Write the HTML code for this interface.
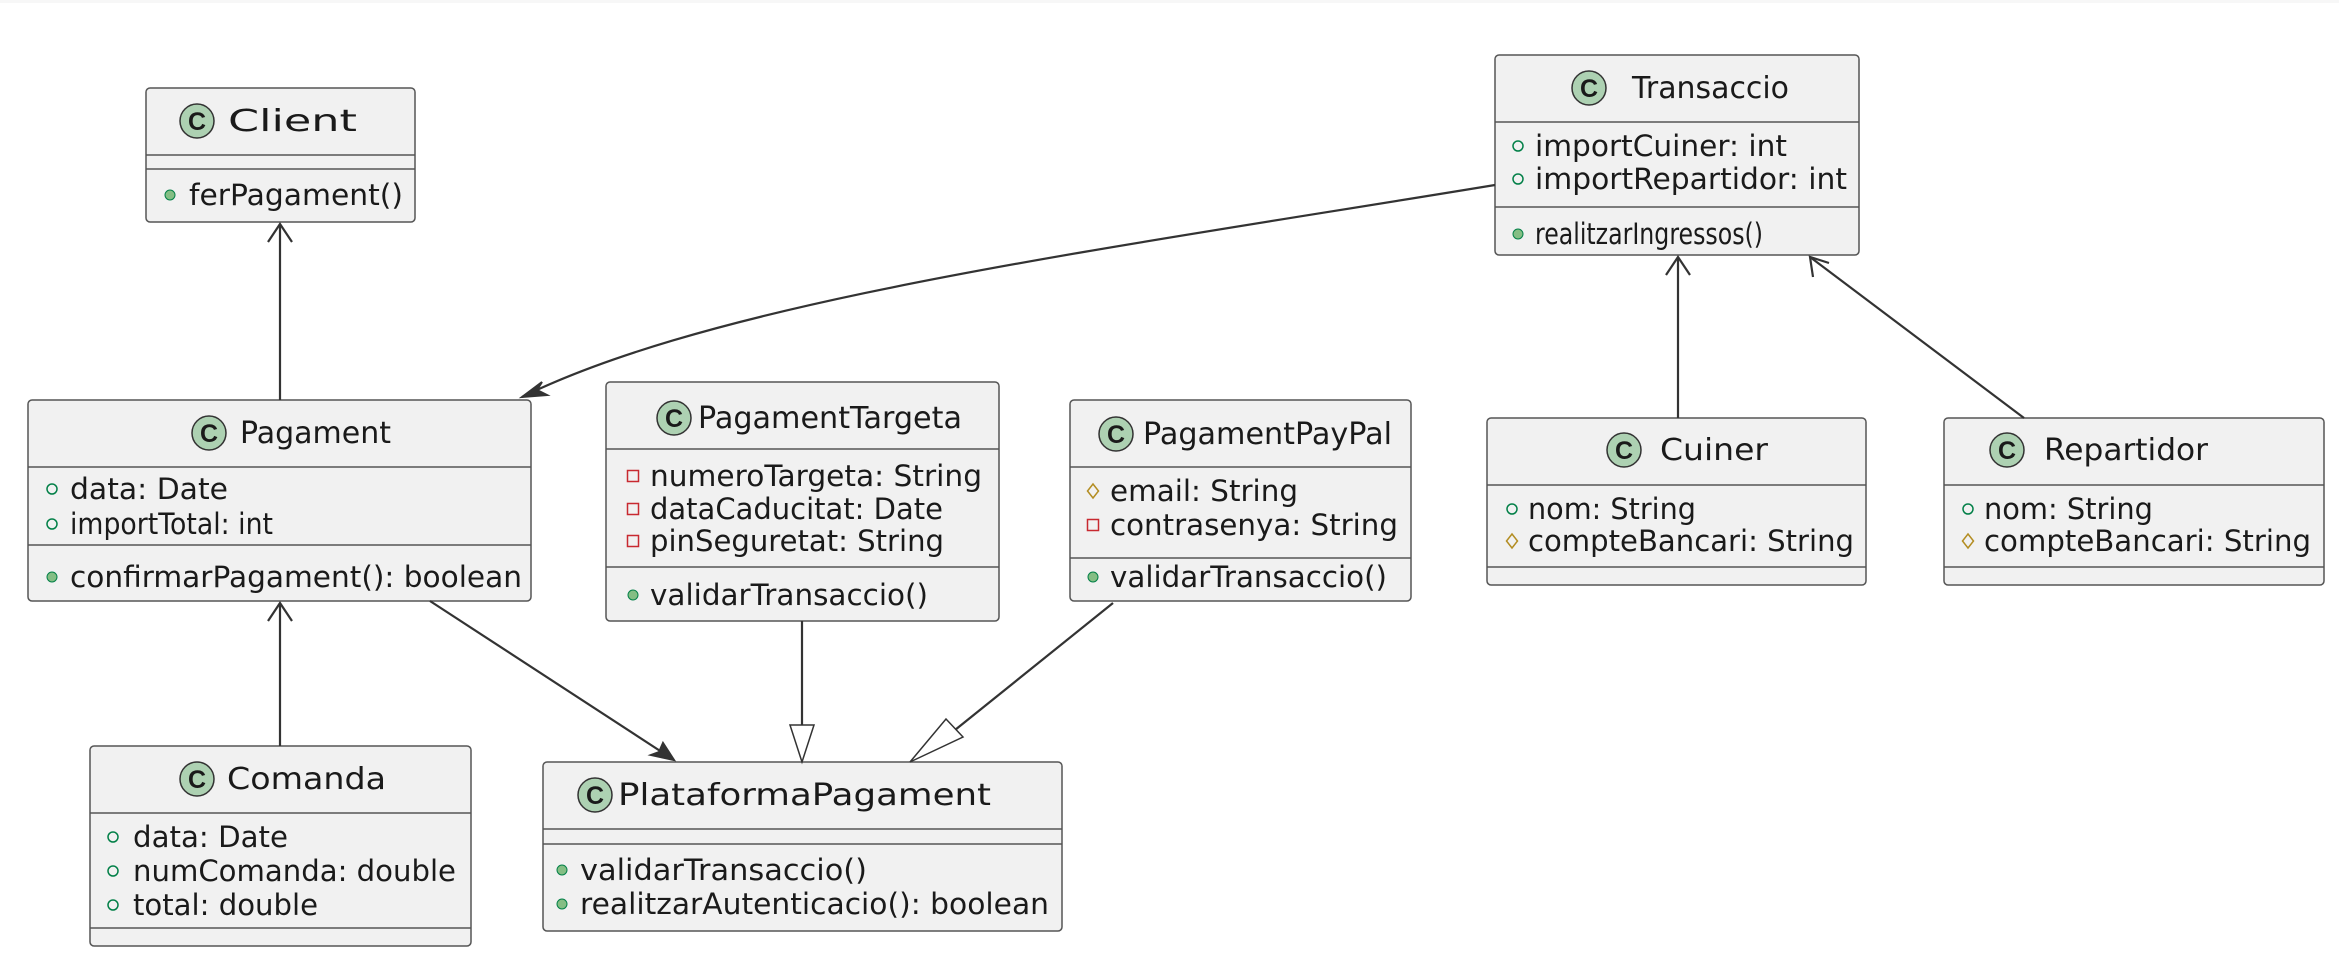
<!DOCTYPE html>
<html><head><meta charset="utf-8"><style>
html,body{margin:0;padding:0;background:#fff;width:2339px;height:973px;overflow:hidden}
svg{display:block}
text{font-family:"DejaVu Sans","Liberation Sans",sans-serif;fill:#1a1a1a}
.t{font-size:30px}.a{font-size:29px}
</style></head><body>
<svg width="2339" height="973" viewBox="0 0 2339 973" xmlns="http://www.w3.org/2000/svg">
<defs>
<g id="ic"><circle r="17" fill="#ADD1B2" stroke="#333" stroke-width="1.5"/><text x="0" y="9" text-anchor="middle" style="font-size:25px;font-weight:bold;font-family:'Liberation Sans',sans-serif">C</text></g>
<g id="pub"><circle r="5" fill="#84BE84" stroke="#038048" stroke-width="1"/></g>
<g id="pubo"><circle r="5" fill="none" stroke="#038048" stroke-width="1.5"/></g>
<g id="priv"><rect x="-5.5" y="-5.5" width="11" height="11" fill="none" stroke="#C82930" stroke-width="1.5"/></g>
<g id="prot"><polygon points="0,-7 5.5,0 0,7 -5.5,0" fill="none" stroke="#B38D22" stroke-width="1.5"/></g>
</defs>
<rect x="0" y="0" width="2339" height="3" fill="#f7f7f7"/>
<g stroke="#555" stroke-width="1.5" fill="#F1F1F1">
<rect x="146" y="88" width="269" height="134" rx="4"/>
<rect x="28" y="400" width="503" height="201" rx="4"/>
<rect x="90" y="746" width="381" height="200" rx="4"/>
<rect x="606" y="382" width="393" height="239" rx="4"/>
<rect x="1070" y="400" width="341" height="201" rx="4"/>
<rect x="543" y="762" width="519" height="169" rx="4"/>
<rect x="1495" y="55" width="364" height="200" rx="4"/>
<rect x="1487" y="418" width="379" height="167" rx="4"/>
<rect x="1944" y="418" width="380" height="167" rx="4"/>
</g>
<g stroke="#555" stroke-width="1.5">
<line x1="146" y1="155" x2="415" y2="155"/><line x1="146" y1="169" x2="415" y2="169"/>
<line x1="28" y1="467" x2="531" y2="467"/><line x1="28" y1="545" x2="531" y2="545"/>
<line x1="90" y1="813" x2="471" y2="813"/><line x1="90" y1="928" x2="471" y2="928"/>
<line x1="606" y1="449" x2="999" y2="449"/><line x1="606" y1="567" x2="999" y2="567"/>
<line x1="1070" y1="467" x2="1411" y2="467"/><line x1="1070" y1="558" x2="1411" y2="558"/>
<line x1="543" y1="829" x2="1062" y2="829"/><line x1="543" y1="844" x2="1062" y2="844"/>
<line x1="1495" y1="122" x2="1859" y2="122"/><line x1="1495" y1="207" x2="1859" y2="207"/>
<line x1="1487" y1="485" x2="1866" y2="485"/><line x1="1487" y1="567" x2="1866" y2="567"/>
<line x1="1944" y1="485" x2="2324" y2="485"/><line x1="1944" y1="567" x2="2324" y2="567"/>
</g>
<g stroke="#333" stroke-width="2.2" fill="none">
<line x1="280" y1="400" x2="280" y2="224"/><polyline points="268,242 280,224 292,242"/>
<line x1="280" y1="746" x2="280" y2="603"/><polyline points="268,621 280,603 292,621"/>
<path d="M1495,185 C1100,250 720,300 522,397"/>
<line x1="430" y1="601" x2="674" y2="760"/>
<line x1="802" y1="621" x2="802" y2="725"/>
<line x1="1113" y1="603" x2="955" y2="730"/>
<line x1="1678" y1="418" x2="1678" y2="257"/><polyline points="1666,275 1678,257 1690,275"/>
<line x1="2024" y1="418" x2="1810" y2="257"/><polyline points="1813,277 1810,257 1829,263"/>
</g>
<polygon points="522,397 542,382 537,390 547,395" fill="#333" stroke="#333" stroke-width="2"/>
<polygon points="674,760 651,755 659,752 663,743" fill="#333" stroke="#333" stroke-width="2"/>
<polygon points="790,725 814,725 802,762" fill="#fff" stroke="#333" stroke-width="1.5"/>
<polygon points="946,719 963,737 910,762" fill="#fff" stroke="#333" stroke-width="1.5"/>
<use href="#ic" x="197" y="121"/><text class="t" x="228" y="131" textLength="129" lengthAdjust="spacingAndGlyphs">Client</text>
<use href="#pub" x="170" y="195"/><text class="a" x="189" y="205" textLength="214" lengthAdjust="spacingAndGlyphs">ferPagament()</text>
<use href="#ic" x="209" y="433"/><text class="t" x="240" y="443" textLength="151" lengthAdjust="spacingAndGlyphs">Pagament</text>
<use href="#pubo" x="52" y="489"/><text class="a" x="70" y="499" textLength="158" lengthAdjust="spacingAndGlyphs">data: Date</text>
<use href="#pubo" x="52" y="524"/><text class="a" x="70" y="534" textLength="203" lengthAdjust="spacingAndGlyphs">importTotal: int</text>
<use href="#pub" x="52" y="577"/><text class="a" x="70" y="587" textLength="452" lengthAdjust="spacingAndGlyphs">confirmarPagament(): boolean</text>
<use href="#ic" x="197" y="779"/><text class="t" x="227" y="789" textLength="159" lengthAdjust="spacingAndGlyphs">Comanda</text>
<use href="#pubo" x="113" y="837"/><text class="a" x="133" y="847" textLength="155" lengthAdjust="spacingAndGlyphs">data: Date</text>
<use href="#pubo" x="113" y="871"/><text class="a" x="133" y="881" textLength="323" lengthAdjust="spacingAndGlyphs">numComanda: double</text>
<use href="#pubo" x="113" y="905"/><text class="a" x="133" y="915" textLength="185" lengthAdjust="spacingAndGlyphs">total: double</text>
<use href="#ic" x="674" y="418"/><text class="t" x="698" y="428" textLength="264" lengthAdjust="spacingAndGlyphs">PagamentTargeta</text>
<use href="#priv" x="633" y="476"/><text class="a" x="650" y="486" textLength="332" lengthAdjust="spacingAndGlyphs">numeroTargeta: String</text>
<use href="#priv" x="633" y="509"/><text class="a" x="650" y="519" textLength="293" lengthAdjust="spacingAndGlyphs">dataCaducitat: Date</text>
<use href="#priv" x="633" y="541"/><text class="a" x="650" y="551" textLength="294" lengthAdjust="spacingAndGlyphs">pinSeguretat: String</text>
<use href="#pub" x="633" y="595"/><text class="a" x="650" y="605" textLength="278" lengthAdjust="spacingAndGlyphs">validarTransaccio()</text>
<use href="#ic" x="1116" y="434"/><text class="t" x="1143" y="444" textLength="249" lengthAdjust="spacingAndGlyphs">PagamentPayPal</text>
<use href="#prot" x="1093" y="491"/><text class="a" x="1110" y="501" textLength="188" lengthAdjust="spacingAndGlyphs">email: String</text>
<use href="#priv" x="1093" y="525"/><text class="a" x="1110" y="535" textLength="288" lengthAdjust="spacingAndGlyphs">contrasenya: String</text>
<use href="#pub" x="1093" y="577"/><text class="a" x="1110" y="587" textLength="277" lengthAdjust="spacingAndGlyphs">validarTransaccio()</text>
<use href="#ic" x="595" y="795"/><text class="t" x="618" y="805" textLength="373" lengthAdjust="spacingAndGlyphs">PlataformaPagament</text>
<use href="#pub" x="562" y="870"/><text class="a" x="580" y="880" textLength="287" lengthAdjust="spacingAndGlyphs">validarTransaccio()</text>
<use href="#pub" x="562" y="904"/><text class="a" x="580" y="914" textLength="469" lengthAdjust="spacingAndGlyphs">realitzarAutenticacio(): boolean</text>
<use href="#ic" x="1589" y="88"/><text class="t" x="1632" y="98" textLength="157" lengthAdjust="spacingAndGlyphs">Transaccio</text>
<use href="#pubo" x="1518" y="146"/><text class="a" x="1535" y="156" textLength="252" lengthAdjust="spacingAndGlyphs">importCuiner: int</text>
<use href="#pubo" x="1518" y="179"/><text class="a" x="1535" y="189" textLength="312" lengthAdjust="spacingAndGlyphs">importRepartidor: int</text>
<use href="#pub" x="1518" y="234"/><text class="a" x="1535" y="244" textLength="228" lengthAdjust="spacingAndGlyphs">realitzarIngressos()</text>
<use href="#ic" x="1624" y="450"/><text class="t" x="1660" y="460" textLength="108" lengthAdjust="spacingAndGlyphs">Cuiner</text>
<use href="#pubo" x="1512" y="509"/><text class="a" x="1528" y="519" textLength="168" lengthAdjust="spacingAndGlyphs">nom: String</text>
<use href="#prot" x="1512" y="541"/><text class="a" x="1528" y="551" textLength="326" lengthAdjust="spacingAndGlyphs">compteBancari: String</text>
<use href="#ic" x="2007" y="450"/><text class="t" x="2044" y="460" textLength="164" lengthAdjust="spacingAndGlyphs">Repartidor</text>
<use href="#pubo" x="1968" y="509"/><text class="a" x="1984" y="519" textLength="169" lengthAdjust="spacingAndGlyphs">nom: String</text>
<use href="#prot" x="1968" y="541"/><text class="a" x="1984" y="551" textLength="327" lengthAdjust="spacingAndGlyphs">compteBancari: String</text>
</svg>
</body></html>
